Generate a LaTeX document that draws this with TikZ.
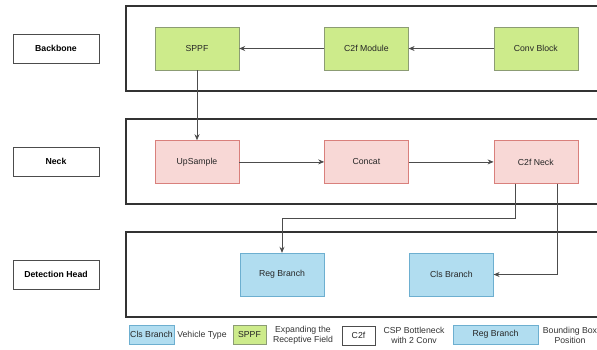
\documentclass[tikz,border=0pt]{standalone}
\usepackage{fontspec}
\setmainfont{Liberation Sans}
\usetikzlibrary{arrows.meta,positioning}
\definecolor{bbfill}{HTML}{CDEB8B}
\definecolor{bbdraw}{HTML}{8C9C74}
\definecolor{nkfill}{HTML}{F8D8D6}
\definecolor{nkdraw}{HTML}{D9807C}
\definecolor{hdfill}{HTML}{B1DDF0}
\definecolor{hddraw}{HTML}{6DAFD0}

\begin{document}
\begin{tikzpicture}[x=1pt,y=-1pt]
	\fontsize{8.7}{10}\selectfont
	\newcommand\bw{84pt}
	\newcommand\bh{43pt}
	\newcommand\gap{85pt}
	\newcommand\vgap{70pt}
	\tikzset{
		stage/.style={draw=black!70, minimum width=86pt, minimum height=29pt, font=\bfseries},
		area/.style={draw=black!80, line width=1.3pt},
		block/.style={draw, minimum width=\bw, minimum height=\bh, text=black!85},
		bbone/.style={block, fill=bbfill, draw=bbdraw},
		neck/.style={block, fill=nkfill, draw=nkdraw},
		head/.style={block, fill=hdfill, draw=hddraw},
		link/.style={draw=black!70, line width=0.8pt, -{Stealth[length=6pt, width=5pt]}},
		key/.style={minimum height=19pt, inner sep=1pt},
		note/.style={align=center, text=black!80},
	}
	\useasboundingbox (0,0) rectangle (597,349);
	% stage containers
	\draw[area] (126,6) rectangle (600,91);
	\draw[area] (126,119) rectangle (600,204);
	\draw[area] (126,232) rectangle (600,317);
	% stage names
	\node[stage] (backbone) at (56,48.5) {Backbone};
	\node[stage] (necklbl) at (56,161.5) {Neck};
	\node[stage] (headlbl) at (56,274.5) {Detection Head};
	% backbone
	\node[bbone] (sppf) at (197,48.5) {SPPF};
	\node[bbone, right=\gap of sppf] (c2fm) {C2f Module};
	\node[bbone, right=\gap of c2fm] (conv) {Conv Block};
	% neck
	\node[neck, below=\vgap of sppf] (ups) {UpSample};
	\node[neck, right=\gap of ups] (concat) {Concat};
	\node[neck, right=\gap of concat] (c2fn) {C2f Neck};
	% detection head
	\node[head] (reg) at (282,274.5) {Reg Branch};
	\node[head, right=\gap of reg] (cls) {Cls Branch};

	\draw[link] (conv) -- (c2fm);
	\draw[link] (c2fm) -- (sppf);
	\draw[link] (sppf) -- (ups);
	\draw[link] (ups) -- (concat);
	\draw[link] (concat) -- (c2fn);
	\draw[link] ([xshift=-20.5pt]c2fn.south) -- ++(0,35) -| (reg.north);
	\draw[link] ([xshift=21.5pt]c2fn.south) |- (cls.east);

	% legend
	\node[head, key, minimum width=43pt] (kcls) at (151.5,334.5) {Cls Branch};
	\node[note] (tcls) at (202,335) {Vehicle Type};
	\node[bbone, key, minimum width=33pt] (ksppf) at (249.5,334.5) {SPPF};
	\node[note] (tsppf) at (303,335) {Expanding the\\Receptive Field};
	\node[block, key, minimum width=33pt, draw=black!70] (kc2f) at (358.5,335.5) {C2f};
	\node[note] (tc2f) at (414,335) {CSP Bottleneck\\with 2 Conv};
	\node[head, key, minimum width=85pt] (kreg) at (495.5,334.5) {Reg Branch};
	\node[note] (treg) at (570,335) {Bounding Box\\Position};
\end{tikzpicture}
\end{document}
